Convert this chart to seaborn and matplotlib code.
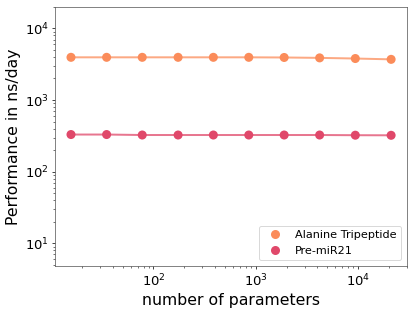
import matplotlib
matplotlib.use("Agg")
import matplotlib.pyplot as plt
import seaborn as sns
import pandas as pd

params = [15.6, 34.8, 77.6, 174, 385, 855, 1897, 4217, 9419, 21090]
alanine = [3950, 3950, 3950, 3950, 3950, 3950, 3930, 3880, 3800, 3700]
premir = [330, 330, 325, 325, 325, 325, 325, 325, 323, 322]
series_names = ["Alanine Tripeptide", "Pre-miR21"]
colors = ["#fb8c5a", "#e0486a"]

df = pd.DataFrame({
    "params": params * 2,
    "perf": alanine + premir,
    "system": [series_names[0]] * len(params) + [series_names[1]] * len(params),
})

DPI = 65
fig, ax = plt.subplots(figsize=(415 / DPI, 312 / DPI), dpi=DPI)
pal = dict(zip(series_names, colors))
sns.lineplot(data=df, x="params", y="perf", hue="system", palette=pal, ax=ax,
             legend=False, linewidth=2.2, alpha=0.75)
sns.scatterplot(data=df, x="params", y="perf", hue="system", palette=pal, ax=ax,
                s=100, edgecolor="none", zorder=3)
ax.set_xscale("log")
ax.set_yscale("log")
ax.set_ylim(4.8, 2.0e4)
ax.set_xlabel("number of parameters", fontsize=17.5)
ax.set_ylabel("Performance in ns/day", fontsize=17.5)
ax.tick_params(labelsize=14.5)
for s in ax.spines.values():
    s.set_color("#555555")
leg = ax.legend(loc="lower right", fontsize=12.5, title=None)
fig.subplots_adjust(left=0.1325, right=0.981, top=0.978, bottom=0.147)
fig.savefig("out.png", dpi=DPI)
